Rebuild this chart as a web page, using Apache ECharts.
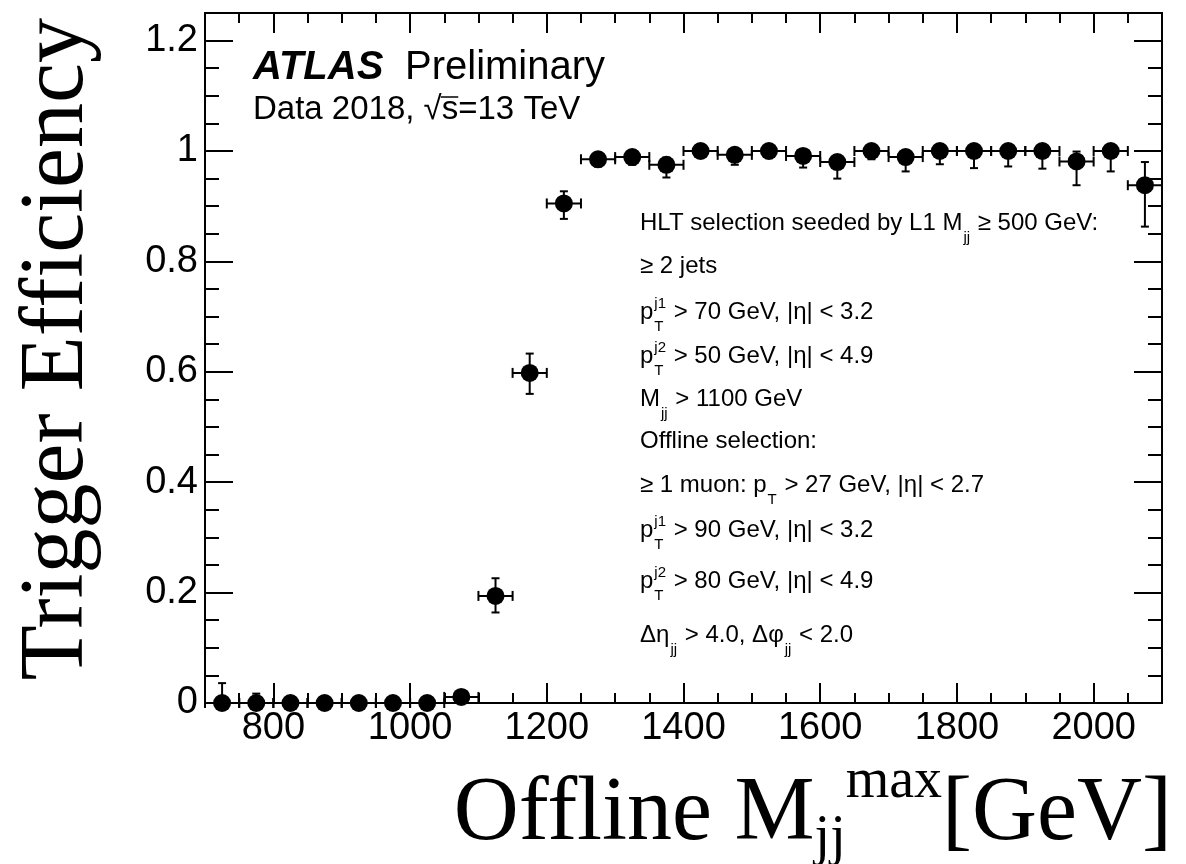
<!DOCTYPE html>
<html>
<head>
<meta charset="utf-8">
<script src="https://cdn.jsdelivr.net/npm/echarts@6/dist/echarts.min.js"></script>
<style>
html,body{margin:0;padding:0;background:#fff;}
#chart{width:1186px;height:864px;}
</style>
</head>
<body>
<div id="chart"></div>
<script>
// ---- data ----
const bins = [725,775,825,875,925,975,1025,1075,1125,1175,1225,1275,1325,1375,1425,1475,1525,1575,1625,1675,1725,1775,1825,1875,1925,1975,2025,2075];
const efficiency = [0,0,0,0,0,0,0,0.011,0.194,0.598,0.905,0.985,0.989,0.975,1.0,0.993,1.0,0.991,0.980,1.0,0.989,1.0,1.0,1.0,1.0,0.981,1.0,0.938];
const errDown = [0,0,0,0,0,0,0,0.008,0.030,0.038,0.028,0.013,0.014,0.023,0.010,0.018,0.013,0.021,0.030,0.015,0.026,0.024,0.031,0.028,0.032,0.043,0.037,0.075];
const errUp = [0.036,0.017,0.004,0.003,0.003,0.003,0.003,0.008,0.032,0.035,0.022,0.008,0.007,0.013,0.0,0.005,0.0,0.006,0.012,0.0,0.007,0.0,0.0,0.0,0.0,0.018,0.0,0.042];
const binHalfWidth = 25;

const xMajorTicks = [800,1000,1200,1400,1600,1800,2000];
const xMinorTicks = [750,850,900,950,1050,1100,1150,1250,1300,1350,1450,1500,1550,1650,1700,1750,1850,1900,1950,2050];
const yMajorTicks = [0,0.2,0.4,0.6,0.8,1,1.2];
const yMinorTicks = [0.05,0.1,0.15,0.25,0.3,0.35,0.45,0.5,0.55,0.65,0.7,0.75,0.85,0.9,0.95,1.05,1.1,1.15];

const xTitleTokens = [['Offline M','n'],['jj','sub'],['max','sup'],['[GeV]','n']];
const yTitle = 'Trigger Efficiency';
const atlasLabel = 'ATLAS';
const prelimLabel = 'Preliminary';
const dataLabelTokens = ['Data 2018, ', '√', 's', '=13 TeV'];

const annotationLines = [
  [['HLT selection seeded by L1 M','n'],['jj','sub'],[' ≥ 500 GeV:','n']],
  [['≥ 2 jets','n']],
  [['p','n'],['T','ss','j1'],[' > 70 GeV, |η| < 3.2','n']],
  [['p','n'],['T','ss','j2'],[' > 50 GeV, |η| < 4.9','n']],
  [['M','n'],['jj','sub'],[' > 1100 GeV','n']],
  [['Offline selection:','n']],
  [['≥ 1 muon: p','n'],['T','sub'],[' > 27 GeV, |η| < 2.7','n']],
  [['p','n'],['T','ss','j1'],[' > 90 GeV, |η| < 3.2','n']],
  [['p','n'],['T','ss','j2'],[' > 80 GeV, |η| < 4.9','n']],
  [['Δη','n'],['jj','sub'],[' > 4.0, Δφ','n'],['jj','sub'],[' < 2.0','n']]
];

// ---- layout / style ----
const SANS = '"Liberation Sans", Arial, Helvetica, sans-serif';
const SERIF = '"Liberation Serif", "Times New Roman", serif';
const annotX = 640;
const annotCenters = [223,266,312,356,399,441,485,530,581,635];
const annotSize = 24;

const ctx = document.createElement('canvas').getContext('2d');
function measure(text, font){ ctx.font = font; return ctx.measureText(text).width; }
function fontStr(size, family, weight, style){ return (style||'normal') + ' ' + (weight||'normal') + ' ' + size + 'px ' + family; }
function textEl(x, y, text, font, opts){
  opts = opts || {};
  return {
    type:'text', x:x, y:y, z:100, rotation: opts.rotation || 0,
    style:{ text:text, font:font, fill:'#000',
      align: opts.align || 'left', verticalAlign: opts.valign || 'middle',
      textAlign: opts.align || 'left', textVerticalAlign: opts.valign || 'middle' }
  };
}

function mathLine(tokens, x0, yc, size, family, cfg){
  const els = [];
  const sSize = Math.round(size * cfg.scriptScale);
  const fMain = fontStr(size, family);
  const fScript = fontStr(sSize, family);
  let x = x0;
  tokens.forEach(tk => {
    const [t, kind, t2] = tk;
    if (kind === 'n') {
      els.push(textEl(x, yc, t, fMain));
      x += measure(t, fMain);
    } else if (kind === 'sub') {
      els.push(textEl(x + cfg.subGap, yc + cfg.subOff * size, t, fScript));
      x += measure(t, fScript) + cfg.subGap + cfg.after;
    } else if (kind === 'sup') {
      els.push(textEl(x + cfg.subGap, yc + cfg.supOff * size, t, fScript));
      x += measure(t, fScript) + cfg.subGap + cfg.after;
    } else if (kind === 'ss') {
      els.push(textEl(x + cfg.subGap, yc + cfg.subOff * size, t, fScript));
      els.push(textEl(x + cfg.subGap, yc + cfg.supOff * size, t2, fScript));
      x += Math.max(measure(t, fScript), measure(t2, fScript)) + cfg.subGap + cfg.after;
    }
  });
  return {els: els, width: x - x0};
}

const graphics = [];
// annotation block
const annCfg = {scriptScale:0.63, subOff:0.6, supOff:-0.33, subGap:1, after:1};
annotationLines.forEach((ln, i) => {
  mathLine(ln, annotX, annotCenters[i], annotSize, SANS, annCfg).els.forEach(e => graphics.push(e));
});

// ATLAS Preliminary
graphics.push(textEl(253, 68, atlasLabel, fontStr(40, SANS, 'bold', 'italic')));
graphics.push(textEl(405, 68, prelimLabel, fontStr(40, SANS)));
// Data 2018, sqrt(s)=13 TeV
(function(){
  const f = fontStr(33, SANS);
  let x = 253; const yc = 110;
  const w0 = measure(dataLabelTokens[0], f);
  graphics.push(textEl(x, yc, dataLabelTokens[0], f)); x += w0;
  const w1 = measure(dataLabelTokens[1], f);
  graphics.push(textEl(x, yc, dataLabelTokens[1], f)); x += w1;
  const w2 = measure(dataLabelTokens[2], f);
  graphics.push(textEl(x, yc, dataLabelTokens[2], f));
  graphics.push({type:'line', z:100, shape:{x1:x - 1, y1:yc - 13, x2:x + w2, y2:yc - 13}, style:{stroke:'#000', lineWidth:1.5}});
  x += w2;
  graphics.push(textEl(x, yc, dataLabelTokens[3], f));
})();

// x-axis title (right aligned)
(function(){
  const titleCfg = {scriptScale:0.62, subOff:0.27, supOff:-0.36, subGap:0, after:0};
  const probe = mathLine(xTitleTokens, 0, 0, 90, SERIF, titleCfg);
  const x0 = 1172 - probe.width;
  mathLine(xTitleTokens, x0, 815, 90, SERIF, titleCfg).els.forEach(e => graphics.push(e));
})();
// y-axis title (rotated)
graphics.push(textEl(58, 18, yTitle, fontStr(90, SERIF), {rotation: Math.PI/2, align:'right'}));

// ---- axes ----
const axisLineStyle = {color:'#000', width:2};
function xAxisDef(position, ticks, len, labels){
  return {
    type:'value', min:700, max:2100, position:position, gridIndex:0,
    axisLine:{show:true, onZero:false, lineStyle:axisLineStyle},
    axisTick:{show:true, inside:true, length:len, customValues:ticks, lineStyle:{color:'#000', width:2}},
    axisLabel:{show:labels, customValues:ticks, color:'#000', fontSize:38, fontFamily:SANS, margin:7,
      formatter: v => String(Math.round(v))},
    splitLine:{show:false}, minorTick:{show:false}
  };
}
function yAxisDef(position, ticks, len, labels){
  return {
    type:'value', min:0, max:1.25, position:position, gridIndex:0,
    axisLine:{show:true, onZero:false, lineStyle:axisLineStyle},
    axisTick:{show:true, inside:true, length:len, customValues:ticks, lineStyle:{color:'#000', width:2}},
    axisLabel:{show:labels, customValues:ticks, color:'#000', fontSize:38, fontFamily:SANS, margin:7,
      formatter: v => String(+v.toFixed(2))},
    splitLine:{show:false}, minorTick:{show:false}
  };
}

const errData = bins.map((b, i) => [b, efficiency[i], errDown[i], errUp[i]]);
const pointData = bins.map((b, i) => [b, efficiency[i]]);

const option = {
  backgroundColor:'#fff',
  animation:false,
  grid:{left:205, right:24, top:13, bottom:161, show:false, containLabel:false, outerBoundsMode:'none'},
  xAxis:[
    xAxisDef('bottom', xMajorTicks, 20, true),
    xAxisDef('bottom', xMinorTicks, 10, false),
    xAxisDef('top', xMajorTicks, 20, false),
    xAxisDef('top', xMinorTicks, 10, false)
  ],
  yAxis:[
    yAxisDef('left', yMajorTicks, 28, true),
    yAxisDef('left', yMinorTicks, 14, false),
    yAxisDef('right', yMajorTicks, 28, false),
    yAxisDef('right', yMinorTicks, 14, false)
  ],
  series:[
    {
      type:'custom', xAxisIndex:0, yAxisIndex:0, data:errData, z:5, clip:false,
      renderItem:function(params, api){
        const x = api.value(0), y = api.value(1), lo = api.value(2), hi = api.value(3);
        const top = api.coord([x, y + hi]);
        const bot = api.coord([x, y - lo]);
        const l = api.coord([x - binHalfWidth, y]);
        const r = api.coord([x + binHalfWidth, y]);
        const st = {stroke:'#000', lineWidth:2};
        const ch = [
          {type:'line', shape:{x1:top[0], y1:top[1], x2:bot[0], y2:bot[1]}, style:st},
          {type:'line', shape:{x1:l[0], y1:l[1], x2:r[0], y2:r[1]}, style:st},
          {type:'line', shape:{x1:l[0], y1:l[1]-5, x2:l[0], y2:l[1]+5}, style:st},
          {type:'line', shape:{x1:r[0], y1:r[1]-5, x2:r[0], y2:r[1]+5}, style:st}
        ];
        if (hi > 0) ch.push({type:'line', shape:{x1:top[0]-4, y1:top[1], x2:top[0]+4, y2:top[1]}, style:st});
        if (lo > 0) ch.push({type:'line', shape:{x1:bot[0]-4, y1:bot[1], x2:bot[0]+4, y2:bot[1]}, style:st});
        return {type:'group', children:ch};
      }
    },
    {
      type:'scatter', xAxisIndex:0, yAxisIndex:0, data:pointData, symbol:'circle', symbolSize:18,
      itemStyle:{color:'#000', opacity:1}, z:6, clip:false
    }
  ],
  graphic:graphics
};

const chart = echarts.init(document.getElementById('chart'), null, {renderer:'canvas'});
chart.setOption(option);
</script>
</body>
</html>
